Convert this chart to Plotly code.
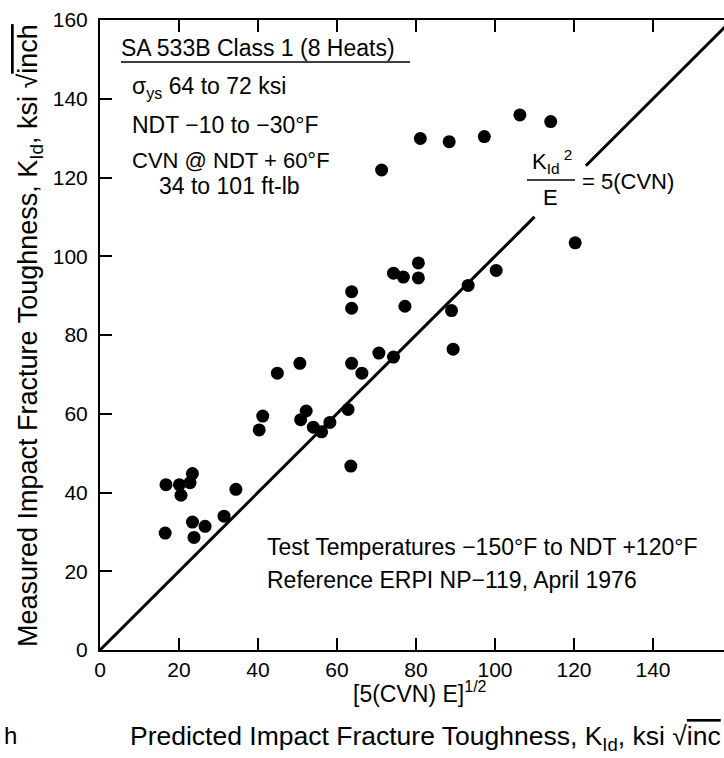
import plotly.graph_objects as go

# Measured points: predicted [5(CVN)E]^1/2 (x) vs measured K_Id (y)
pred_k = [71.3, 81.1, 88.4, 97.3, 106.3, 114.1, 120.3, 100.3, 93.2, 80.6,
          74.3, 76.8, 80.6, 77.2, 89.0, 89.4, 63.7, 63.7, 70.6, 74.3,
          63.7, 66.3, 50.6, 44.9, 62.8, 52.2, 50.8, 54.0, 56.1, 58.2,
          63.5, 40.3, 41.2, 16.7, 20.1, 20.5, 22.8, 23.4, 34.4, 31.4,
          23.4, 26.6, 23.8, 16.5]
meas_k = [121.9, 129.9, 129.1, 130.4, 135.9, 134.2, 103.4, 96.4, 92.6, 98.3,
          95.7, 94.7, 94.5, 87.3, 86.2, 76.4, 91.0, 86.8, 75.4, 74.4,
          72.8, 70.3, 72.8, 70.3, 61.1, 60.7, 58.5, 56.6, 55.4, 57.8,
          46.7, 55.9, 59.4, 42.0, 42.0, 39.3, 42.5, 44.8, 40.8, 34.0,
          32.5, 31.4, 28.6, 29.7]

# Correlation line K_Id = [5(CVN)E]^1/2, broken where the label sits
line_x = [0, 110, None, 123, 160]
line_y = [0, 110, None, 123, 160]

x_ticks = [0, 20, 40, 60, 80, 100, 120, 140]
y_ticks = [0, 20, 40, 60, 80, 100, 120, 140, 160]

FONT = "Liberation Sans, Arial, sans-serif"

W, H = 724, 758
L, R, T, B = 100, 0, 20, 108
PW, PH = W - L - R, H - T - B


def px(x):
    return (x - L) / PW


def py(y):
    return (H - B - y) / PH


fig = go.Figure()
fig.add_trace(go.Scatter(x=line_x, y=line_y, mode="lines",
                         line=dict(color="black", width=3),
                         hoverinfo="skip", showlegend=False))
fig.add_trace(go.Scatter(x=pred_k, y=meas_k, mode="markers",
                         marker=dict(color="black", size=13),
                         showlegend=False))

ann = []


def text(s, x, y, size=23, xanchor="left", angle=0):
    ann.append(dict(text=s, x=px(x), y=py(y), xref="paper", yref="paper",
                    xanchor=xanchor, yanchor="middle", showarrow=False,
                    textangle=angle, font=dict(family=FONT, size=size, color="black")))


text("SA 533B Class 1 (8 Heats)", 119, 48)
text("σ<sub>ys</sub> 64 to 72 ksi", 130, 88)
text("NDT −10 to −30°F", 130, 125)
text("CVN @ NDT + 60°F", 130, 160, size=22)
text("34 to 101 ft-lb", 157, 186)
text("K<sub>Id</sub><sup> 2</sup>", 552, 162, size=22, xanchor="center")
text("E", 550, 197, size=22, xanchor="center")
text("= 5(CVN)", 580, 182, size=22)
text("Test Temperatures −150°F to NDT +120°F", 265, 547)
text("Reference ERPI NP−119, April 1976", 265, 580)
text("[5(CVN) E]<sup>1/2</sup>", 420, 692, size=23, xanchor="center")
text("Predicted Impact Fracture Toughness, K<sub>Id</sub>, ksi √<span style='text-decoration:overline'>inc</span>",
     128, 738, size=26.5)
text("h", 10, 735, size=24, xanchor="center")
text("Measured Impact Fracture Toughness, K<sub>Id</sub>, ksi √<span style='text-decoration:overline'>inch</span>",
     30, 336, size=27, xanchor="center", angle=-90)

shapes = [
    dict(type="line", xref="paper", yref="paper", x0=px(121), x1=px(410), y0=py(62), y1=py(62),
         line=dict(color="black", width=1.5)),
    dict(type="line", xref="paper", yref="paper", x0=px(527), x1=px(575), y0=py(180), y1=py(180),
         line=dict(color="black", width=1.5)),
]

fig.update_layout(
    width=W, height=H,
    margin=dict(l=L, r=R, t=T, b=B, autoexpand=False),
    paper_bgcolor="white", plot_bgcolor="white",
    annotations=ann, shapes=shapes,
    font=dict(family=FONT, size=21, color="black"),
    xaxis=dict(range=[0, PW / 3.95], tickvals=x_ticks, ticks="inside", ticklen=12,
               tickwidth=2, tickcolor="black", showline=True, linecolor="black",
               linewidth=2, mirror="ticks", showgrid=False, zeroline=False,
               tickfont=dict(family=FONT, size=21)),
    yaxis=dict(range=[0, 160], tickvals=y_ticks, ticks="inside", ticklen=12,
               tickwidth=2, tickcolor="black", showline=True, linecolor="black",
               linewidth=2, showgrid=False, zeroline=False, ticklabelstandoff=6,
               tickfont=dict(family=FONT, size=21)),
)

fig.write_html("out.html", config={"displayModeBar": False},
               post_script="document.body.style.margin='0px';document.body.style.overflow='hidden';")
